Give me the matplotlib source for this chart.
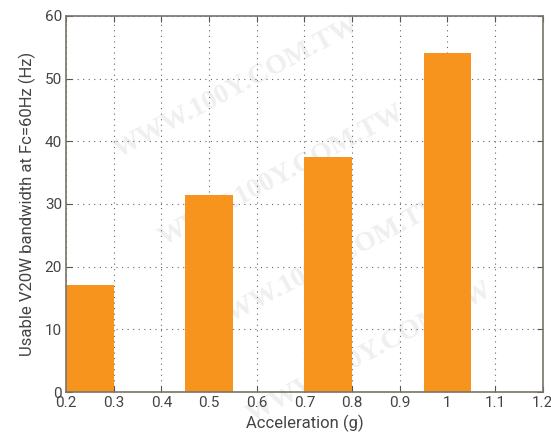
import numpy as np
import matplotlib
matplotlib.use('Agg')
import matplotlib.pyplot as plt

# data
accel = [0.25, 0.5, 0.75, 1.0]
bandwidth = [17.0, 31.5, 37.5, 54.0]
xticks = [0.2, 0.3, 0.4, 0.5, 0.6, 0.7, 0.8, 0.9, 1.0, 1.1, 1.2]
xticklabels = ['0.2', '0.3', '0.4', '0.5', '0.6', '0.7', '0.8', '0.9', '1', '1.1', '1.2']
yticks = [0, 10, 20, 30, 40, 50, 60]

plt.rcParams['font.family'] = ['Roboto', 'DejaVu Sans']

fig = plt.figure(figsize=(5.51, 4.41), dpi=100)
ax = fig.add_axes([0.12, 0.111, 0.865, 0.853])
ax.set_zorder(1)

# faint watermark behind the plot
for (x, y) in [(0.2, 0.8), (0.28, 0.6), (0.36, 0.4), (0.44, 0.2)]:
    fig.text(x, y, 'WWW.100Y.COM.TW', fontsize=20, fontweight='bold', family='Liberation Serif',
             color='#efefef', rotation=28, ha='left', va='center', zorder=0)

ax.bar(accel, bandwidth, width=0.1, color='#f7941d', zorder=2)

ax.set_xlim(0.2, 1.2)
ax.set_ylim(0, 60)
ax.set_xticks(xticks)
ax.set_xticklabels(xticklabels)
ax.set_yticks(yticks)
ax.tick_params(direction='in', top=True, right=True, labelsize=11, labelcolor='#444444',
               color='#555555', length=4, pad=3)
ax.grid(True, linestyle=(0, (1, 4)), color='#666666', linewidth=0.8, zorder=1)
ax.set_axisbelow(True)
for s in ax.spines.values():
    s.set_color('#7a7468')
    s.set_linewidth(1.2)
ax.patch.set_alpha(0)

ax.set_xlabel('Acceleration (g)', fontsize=12, color='#444444', labelpad=3)
ax.set_ylabel('Usable V20W bandwidth at Fc=60Hz (Hz)', fontsize=12, color='#444444', labelpad=6)

fig.savefig('out.png', dpi=100)
